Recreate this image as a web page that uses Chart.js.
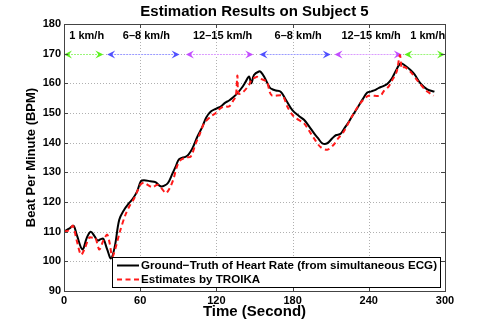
<!DOCTYPE html>
<html>
<head>
<meta charset="utf-8">
<script src="https://cdn.jsdelivr.net/npm/chart.js@4.4.1/dist/chart.umd.min.js"></script>
<style>
html, body { margin: 0; padding: 0; background: #fff; }
#wrap { width: 491px; height: 327px; }
</style>
</head>
<body>
<div id="wrap"><canvas id="hrChart" width="491" height="327"></canvas></div>
<script>
// Ground truth (ECG) heart rate
var timeTruth = [0, 4, 7.5, 10, 14.5, 18, 21, 24, 26.5, 29, 31, 34, 37, 40, 43.5, 47.5, 51, 54, 57.5, 60.5,
    63, 68, 72, 76, 79, 82, 85.5, 88, 90.6, 96, 98, 101, 105, 109, 112, 115.6, 120, 123.4, 127, 130,
    133, 136.6, 140, 143, 145.7, 147.5, 149.6, 153.5, 155, 157.5, 162, 164, 167, 170.6, 174, 179.8, 185, 189, 193, 196.8,
    200, 203.4, 207.3, 211.3, 214, 217.8, 221, 224.4, 227, 230.9, 235, 238.8, 242, 245.3, 248, 251, 254.5, 258, 261, 265,
    268.5, 272.8, 276, 280.7, 286, 291.7];
var bpmTruth = [110, 111, 112, 109, 104, 108, 110, 108.5, 107, 107.5, 107.6, 104, 101, 105, 114, 117.5, 119.5, 121, 123.5, 127,
    127.3, 127, 126.7, 125.3, 125.5, 126.5, 129.7, 132, 134.4, 135.3, 136, 138, 142, 145.4, 148.5, 150.5, 151.5, 152.2, 153.5, 154.2,
    155.2, 156.7, 158.5, 160.5, 162.3, 160, 162.8, 164, 163.8, 162.3, 158.6, 158, 157.6, 157.2, 155, 151, 149, 147.7, 145.5, 143.2,
    141.5, 139.8, 139.8, 141.5, 142.5, 143, 145, 147.1, 149, 151.6, 154.5, 156.9, 157.3, 157.8, 158.5, 159, 159.8, 161.5, 164, 166.7,
    166, 164.5, 163, 160, 158, 157.2];

// TROIKA estimates
var timeTroika = [0, 4, 7, 10, 13.4, 16, 19.9, 22, 24.6, 27.8, 31, 34, 36, 38, 40.6, 44, 48.4, 52, 55, 57.6,
    60.5, 63, 65.8, 69.7, 73.6, 77, 80.2, 83, 86, 89, 92, 96, 99.8, 103.8, 107, 110.3, 115.6, 119.5, 123, 126,
    130, 133, 135.3, 136.5, 137.5, 141.3, 145.7, 148, 150.4, 152, 154.4, 159.7, 162, 164, 172, 176, 181, 189, 193, 196.8,
    202, 207.3, 212.3, 216, 220.2, 226.7, 233.3, 239.8, 249, 252, 255.6, 259, 262, 264.5, 266, 268, 272.8, 278, 284.5, 291];
var bpmTroika = [110, 110.5, 112, 107, 102.2, 104, 108, 108, 108, 104, 107, 109, 106, 101.6, 104.5, 110, 115.7, 119, 121, 123.5,
    126, 126.5, 125.8, 125, 125.8, 124.5, 123, 124.5, 127.5, 132, 134.2, 135, 135.3, 139.8, 143, 146.5, 148.8, 150, 151.5, 152.2,
    152.2, 154, 155.8, 162.6, 156.5, 157.2, 159.5, 161.5, 161.9, 162.2, 161.6, 160.5, 157, 155.8, 155.8, 152, 148.8, 146.5, 144, 141.5,
    138.5, 137.6, 139.3, 141.5, 143.7, 148.8, 153.3, 155.8, 155.8, 157.5, 158.9, 161.5, 164, 169.5, 165, 165.5, 163.9, 161.1, 157.8, 155.8];

// Axis ranges
var xMin = 0, xMax = 300, xStep = 60;
var yMin = 90, yMax = 180, yStep = 10;

// Running speed annotation
var speedLabels = ['1 km/h', '6\u20138 km/h', '12\u201315 km/h', '6\u20138 km/h', '12\u201315 km/h', '1 km/h'];
var speedStart = [0, 34, 96, 154, 213, 268];
var speedEnd = [31, 91, 149, 210, 266, 300];
var speedColors = ['#5cf01e', '#4f4fff', '#c24cff', '#4f4fff', '#c24cff', '#5cf01e'];
var speedLight = ['#9cf57a', '#9a9aff', '#db9cff', '#9a9aff', '#db9cff', '#9cf57a'];
var arrowLevel = 170;
var labelLevel = 176;

var chartTitle = 'Estimation Results on Subject 5';
var FONT = '"Liberation Sans", Arial, Helvetica, sans-serif';

function toPoints(xs, ys) {
    return xs.map(function (x, i) { return { x: x, y: ys[i] }; });
}

var decor = {
    id: 'decor',
    beforeDatasetsDraw: function (chart) {
        var ctx = chart.ctx;
        var ca = chart.chartArea;
        var xs = chart.scales.x, ys = chart.scales.y;
        ctx.save();
        // dotted grid
        ctx.strokeStyle = '#b0b0b0';
        ctx.lineWidth = 1;
        ctx.setLineDash([1, 2]);
        ctx.beginPath();
        xs.ticks.forEach(function (t) {
            if (t.value <= xMin || t.value >= xMax) return;
            var px = Math.round(xs.getPixelForValue(t.value)) + 0.5;
            ctx.moveTo(px, ca.top); ctx.lineTo(px, ca.bottom);
        });
        ys.ticks.forEach(function (t) {
            if (t.value <= yMin || t.value >= yMax) return;
            var py = Math.round(ys.getPixelForValue(t.value)) + 0.5;
            ctx.moveTo(ca.left, py); ctx.lineTo(ca.right, py);
        });
        ctx.stroke();
        ctx.setLineDash([]);

        var ay = Math.round(ys.getPixelForValue(arrowLevel)) + 0.5;
        for (var i = 0; i < speedLabels.length; i++) {
            var x1 = xs.getPixelForValue(speedStart[i]);
            var x2 = xs.getPixelForValue(speedEnd[i]);
            ctx.fillStyle = '#fff';
            ctx.fillRect(x1, ay - 1, x2 - x1, 2);
            ctx.strokeStyle = speedLight[i];
            ctx.lineWidth = 1.2;
            ctx.setLineDash([2, 1]);
            ctx.beginPath();
            ctx.moveTo(x1 + 4, ay);
            ctx.lineTo(x2 - 4, ay);
            ctx.stroke();
            ctx.setLineDash([]);
            // arrow heads
            ctx.fillStyle = speedColors[i];
            ctx.beginPath();
            ctx.moveTo(x1, ay);
            ctx.lineTo(x1 + 8, ay - 4);
            ctx.lineTo(x1 + 5, ay);
            ctx.lineTo(x1 + 8, ay + 4);
            ctx.closePath();
            ctx.fill();
            ctx.beginPath();
            ctx.moveTo(x2, ay);
            ctx.lineTo(x2 - 8, ay - 4);
            ctx.lineTo(x2 - 5, ay);
            ctx.lineTo(x2 - 8, ay + 4);
            ctx.closePath();
            ctx.fill();
            // speed text
            ctx.fillStyle = '#000';
            ctx.font = 'bold 11px ' + FONT;
            ctx.textAlign = 'center';
            ctx.textBaseline = 'middle';
            var mid = xs.getPixelForValue((speedStart[i] + speedEnd[i]) / 2) + 3;
            ctx.fillText(speedLabels[i], mid, ys.getPixelForValue(labelLevel));
        }
        ctx.restore();
    },
    afterDraw: function (chart) {
        var ctx = chart.ctx;
        var ca = chart.chartArea;
        var xs = chart.scales.x, ys = chart.scales.y;
        ctx.save();
        // title over the plot box
        ctx.fillStyle = '#000';
        ctx.font = 'bold 15px ' + FONT;
        ctx.textAlign = 'center';
        ctx.textBaseline = 'middle';
        ctx.fillText(chartTitle, (ca.left + ca.right) / 2, 12);

        // inner tick marks
        ctx.strokeStyle = '#444';
        ctx.lineWidth = 1;
        ctx.beginPath();
        xs.ticks.forEach(function (t) {
            var px = Math.round(xs.getPixelForValue(t.value)) + 0.5;
            ctx.moveTo(px, ca.bottom); ctx.lineTo(px, ca.bottom - 4);
            ctx.moveTo(px, ca.top); ctx.lineTo(px, ca.top + 4);
        });
        ys.ticks.forEach(function (t) {
            var py = Math.round(ys.getPixelForValue(t.value)) + 0.5;
            ctx.moveTo(ca.left, py); ctx.lineTo(ca.left + 4, py);
            ctx.moveTo(ca.right, py); ctx.lineTo(ca.right - 4, py);
        });
        ctx.stroke();
        // frame
        ctx.strokeRect(Math.round(ca.left) + 0.5, Math.round(ca.top) + 0.5,
            Math.round(ca.right - ca.left), Math.round(ca.bottom - ca.top));

        // legend box
        ctx.font = 'bold 11.6px ' + FONT;
        var labels = chart.data.datasets.map(function (d) { return d.label; });
        var tw = Math.max.apply(null, labels.map(function (l) { return ctx.measureText(l).width; }));
        var right = ca.right - 5, bottom = ca.bottom - 4;
        var w = tw + 32, h = 30;
        var left = right - w, top = bottom - h;
        ctx.fillStyle = '#fff';
        ctx.fillRect(left, top, w, h);
        ctx.strokeStyle = '#000';
        ctx.strokeRect(Math.round(left) + 0.5, Math.round(top) + 0.5, Math.round(w), Math.round(h));
        chart.data.datasets.forEach(function (d, i) {
            var ry = top + 8.5 + i * 14;
            ctx.strokeStyle = d.borderColor;
            ctx.lineWidth = d.borderWidth;
            ctx.setLineDash(d.borderDash || []);
            ctx.beginPath();
            ctx.moveTo(left + 5, ry);
            ctx.lineTo(left + 27, ry);
            ctx.stroke();
            ctx.setLineDash([]);
            ctx.fillStyle = '#000';
            ctx.textAlign = 'left';
            ctx.textBaseline = 'middle';
            ctx.fillText(d.label, left + 29, ry);
        });
        ctx.restore();
    }
};

var hrChart = new Chart(document.getElementById('hrChart').getContext('2d'), {
    type: 'line',
    data: {
        datasets: [
            {
                label: 'Ground\u2212Truth of Heart Rate (from simultaneous ECG)',
                data: toPoints(timeTruth, bpmTruth),
                borderColor: '#000',
                borderWidth: 2,
                pointRadius: 0,
                tension: 0.35,
                order: 1
            },
            {
                label: 'Estimates by TROIKA',
                data: toPoints(timeTroika, bpmTroika),
                borderColor: '#ff1a1a',
                borderWidth: 2,
                borderDash: [5, 3.5],
                pointRadius: 0,
                tension: 0.3,
                order: 0
            }
        ]
    },
    options: {
        responsive: false,
        animation: false,
        layout: { padding: { left: 0, right: 46, top: 24, bottom: 0 } },
        plugins: {
            legend: { display: false },
            tooltip: { enabled: false },
            title: { display: false }
        },
        scales: {
            x: {
                type: 'linear',
                min: xMin, max: xMax,
                ticks: { stepSize: xStep, color: '#000', padding: 3, maxRotation: 0,
                    font: { family: FONT, size: 11, weight: 'bold' } },
                grid: { display: false, drawTicks: false },
                border: { display: false },
                title: { display: true, text: 'Time (Second)', color: '#000',
                    font: { family: FONT, size: 15, weight: 'bold' }, padding: { top: 0, bottom: 6 } },
                afterFit: function (s) { s.height = 36; }
            },
            y: {
                min: yMin, max: yMax,
                ticks: { stepSize: yStep, color: '#000', padding: 3,
                    font: { family: FONT, size: 11, weight: 'bold' } },
                grid: { display: false, drawTicks: false },
                border: { display: false },
                title: { display: true, text: 'Beat Per Minute (BPM)', color: '#000',
                    font: { family: FONT, size: 13, weight: 'bold' }, padding: { top: 24, bottom: 0 } },
                afterFit: function (s) { s.width = 64; }
            }
        }
    },
    plugins: [decor]
});
</script>
</body>
</html>
